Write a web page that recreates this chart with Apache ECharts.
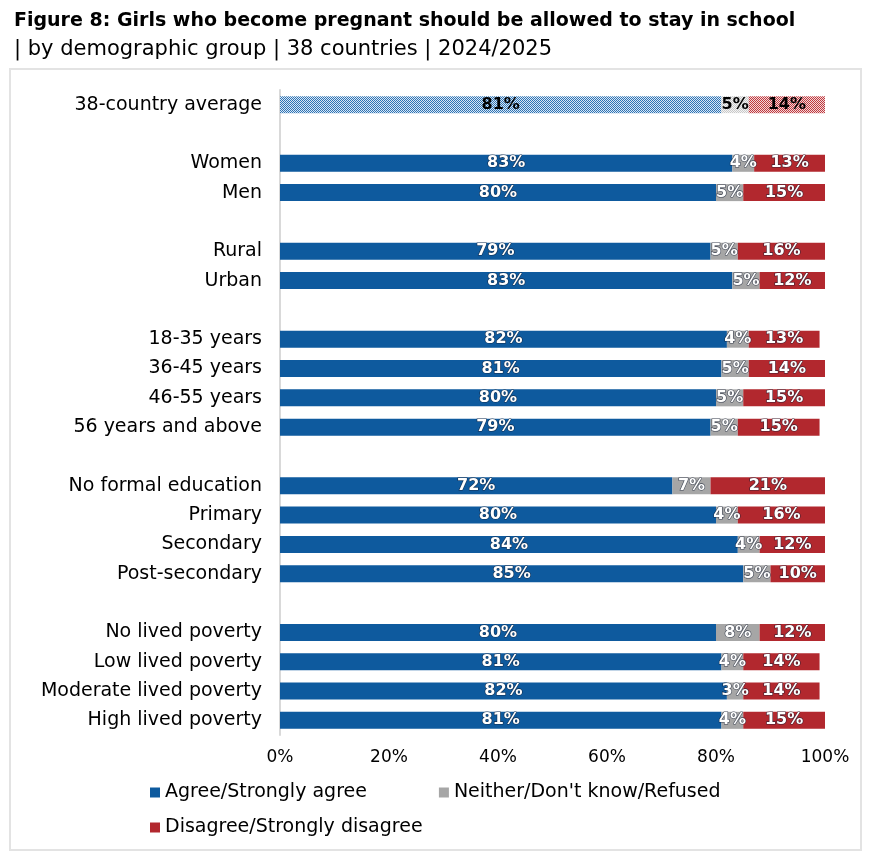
<!DOCTYPE html>
<html><head><meta charset="utf-8">
<script src="https://cdn.jsdelivr.net/npm/echarts@6/dist/echarts.min.js"></script>
<style>html,body{margin:0;padding:0;background:#fff}#c{width:873px;height:851px}</style>
</head><body><div id="c"></div>
<script>
const categories = ['38-country average','', 'Women','Men',' ', 'Rural','Urban','  ',
  '18-35 years','36-45 years','46-55 years','56 years and above','   ',
  'No formal education','Primary','Secondary','Post-secondary','    ',
  'No lived poverty','Low lived poverty','Moderate lived poverty','High lived poverty'];
const agree    = [81,null,83,80,null,79,83,null,82,81,80,79,null,72,80,84,85,null,80,81,82,81];
const neither  = [5,null,4,5,null,5,5,null,4,5,5,5,null,7,4,4,5,null,8,4,3,4];
const disagree = [14,null,13,15,null,16,12,null,13,14,15,15,null,21,16,12,10,null,12,14,14,15];
const seriesNames = ['Agree/Strongly agree','Neither/Don\'t know/Refused','Disagree/Strongly disagree'];
const tickLabels = ['0%','20%','40%','60%','80%','100%'];

const FONT = 'DejaVu Sans';
const colors = ['#0e5a9e','#a6a6a6','#b2282e'];

function pattern(c1, c2){
  const cv = document.createElement('canvas');
  cv.width = 2; cv.height = 2;
  const ctx = cv.getContext('2d');
  ctx.fillStyle = c2; ctx.fillRect(0,0,2,2);
  ctx.fillStyle = c1; ctx.fillRect(0,0,1,1); ctx.fillRect(1,1,1,1);
  return {image: cv, repeat: 'repeat'};
}
const patColors = [pattern('#2f74b5','#dbe8f5'), pattern('#c8c8c8','#f4f4f4'), pattern('#c0393f','#f3d9da')];

function mk(vals, idx){
  return vals.map((v,i)=>{
    if (i === 0) {
      return {value: v, itemStyle:{color: patColors[idx]},
        label:{color:'#000', textBorderWidth:0}};
    }
    return v;
  });
}

const labelBase = {
  show: true, position: 'inside', color: '#fff', fontFamily: FONT, fontWeight: 'bold', fontSize: 16,
  textBorderColor: 'rgba(20,30,50,0.75)', textBorderWidth: 1.2,
  formatter: p => (p.value == null ? '' : p.value + '%')
};

const chart = echarts.init(document.getElementById('c'));
chart.setOption({
  animation: false,
  textStyle: {fontFamily: FONT},
  title: [
    {text: 'Figure 8: Girls who become pregnant should be allowed to stay in school', left: 9, top: 7,
     textStyle:{fontFamily: FONT, fontWeight:'bold', fontSize: 19, color:'#000'}},
    {text: '| by demographic group | 38 countries | 2024/2025', left: 9, top: 34,
     textStyle:{fontFamily: FONT, fontWeight:'normal', fontSize: 21, color:'#000'}}
  ],
  graphic: [{type:'rect', shape:{x:10, y:69, width:851, height:781}, silent:true,
    style:{fill:'none', stroke:'#e3e3e3', lineWidth:2}}],
  grid: {left: 280, right: 48, top: 90, bottom: 116, containLabel: false},
  legend: [
    {data: seriesNames.slice(0,2), left: 145, top: 778, itemWidth: 10, itemHeight: 10, itemGap: 72,
     icon: 'rect', textStyle:{fontFamily: FONT, fontSize: 19, color:'#000'}},
    {data: seriesNames.slice(2), left: 145, top: 813, itemWidth: 10, itemHeight: 10,
     icon: 'rect', textStyle:{fontFamily: FONT, fontSize: 19, color:'#000'}}
  ],
  xAxis: {type:'value', min:0, max:100, interval:20,
    axisLine:{show:false}, axisTick:{show:false}, splitLine:{show:false},
    axisLabel:{formatter: v => tickLabels[v/20], fontFamily: FONT, fontSize: 17, color:'#000', margin: 14}},
  yAxis: {type:'category', data: categories, inverse: true,
    axisLine:{show:true, lineStyle:{color:'#d9d9d9', width:2}}, axisTick:{show:false},
    axisLabel:{fontFamily: FONT, fontSize: 19, color:'#000', margin: 18}},
  series: [
    {name: seriesNames[0], type:'bar', stack:'s', data: mk(agree,0), barWidth: 17,
     itemStyle:{color: colors[0]}, label: labelBase},
    {name: seriesNames[1], type:'bar', stack:'s', data: mk(neither,1), barWidth: 17,
     itemStyle:{color: colors[1]}, label: labelBase},
    {name: seriesNames[2], type:'bar', stack:'s', data: mk(disagree,2), barWidth: 17,
     itemStyle:{color: colors[2]}, label: labelBase}
  ]
});
</script></body></html>
